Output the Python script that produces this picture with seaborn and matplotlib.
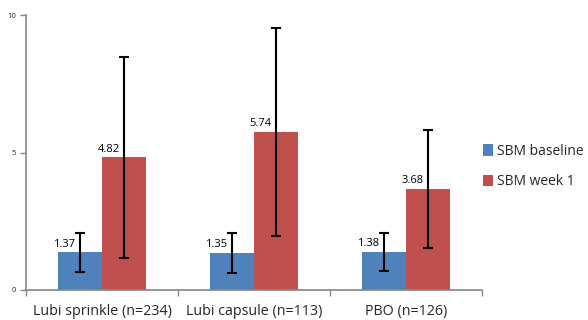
import matplotlib
matplotlib.use("Agg")
import matplotlib.pyplot as plt
import seaborn as sns
import pandas as pd
import numpy as np
from matplotlib.patches import Patch

categories = ["Lubi sprinkle (n=234)", "Lubi capsule (n=113)", "PBO (n=126)"]
series = ["SBM baseline", "SBM week 1"]
baseline = [1.37, 1.35, 1.38]
week1 = [4.82, 5.74, 3.68]
baseline_err = [0.71, 0.72, 0.70]
week1_err = [3.65, 3.77, 2.15]
colors = ["#4F81BD", "#C0504D"]

sns.set_theme(style="white")
plt.rcParams['font.family'] = ['Open Sans', 'DejaVu Sans']

df = pd.DataFrame({
    "category": categories * 2,
    "series": [series[0]] * 3 + [series[1]] * 3,
    "value": baseline + week1,
})

fig = plt.figure(figsize=(5.88, 3.2), dpi=100)
ax = fig.add_axes([26/588, 30/320, (482-26)/588, (290-15)/320])

sns.barplot(data=df, x="category", y="value", hue="series", order=categories,
            hue_order=series, palette=colors, errorbar=None, width=0.58,
            saturation=1, ax=ax, legend=False, linewidth=0)

errs = [baseline_err, week1_err]
vals = [baseline, week1]
bar_containers = list(ax.containers)
for ci, cont in enumerate(bar_containers):
    for bi, p in enumerate(cont.patches):
        xc = p.get_x() + p.get_width() / 2
        ax.errorbar(xc, vals[ci][bi], yerr=errs[ci][bi], fmt="none", ecolor="black",
                    elinewidth=1.5, capsize=3.5, capthick=1.5, zorder=5)
        ax.text(xc - 0.03, vals[ci][bi] + 0.1, f"{vals[ci][bi]:.2f}", ha="right",
                va="bottom", fontsize=8, color="black")

ax.set_ylim(0, 10)
ax.set_xlim(-0.5, 2.5)
ax.set_yticks([0, 5, 10])
ax.set_yticklabels(["0", "5", "10"], fontsize=5.5)
ax.set_xticks(range(3))
ax.set_xticklabels(categories, fontsize=10.3)
ax.set_xticks([-0.5, 0.5, 1.5, 2.5], minor=True)
ax.tick_params(axis="x", which="major", length=0, pad=10)
ax.tick_params(axis="x", which="minor", length=4, color="#868686", width=1, direction="out", bottom=True)
ax.tick_params(axis="y", length=4, color="#868686", width=1, direction="out", left=True, pad=3)
ax.set_xlabel("")
ax.set_ylabel("")
for s in ["top", "right"]:
    ax.spines[s].set_visible(False)
for s in ["left", "bottom"]:
    ax.spines[s].set_color("#868686")
    ax.spines[s].set_linewidth(1.2)

handles = [Patch(facecolor=c, edgecolor="none") for c in colors]
fig.legend(handles, series, loc="upper left", bbox_to_anchor=(483/588, 1 - 144/320),
           frameon=False, fontsize=10, handlelength=0.7, handleheight=0.95,
           handletextpad=0.3, labelspacing=1.1, borderaxespad=0, borderpad=0)

fig.savefig("out.png", dpi=100)
